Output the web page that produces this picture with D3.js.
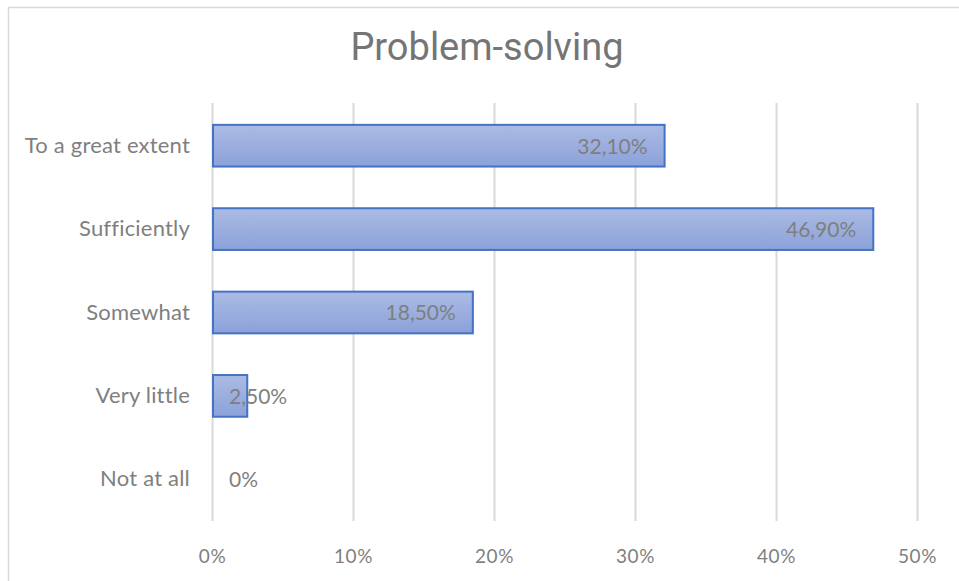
<!DOCTYPE html>
<html>
<head>
<meta charset="utf-8">
<script src="https://cdn.jsdelivr.net/npm/d3@7/dist/d3.min.js"></script>
<style>
  html, body { margin: 0; padding: 0; background: #fff; }
  svg { display: block; }
</style>
</head>
<body>
<svg id="chart" width="959" height="581"></svg>
<script>
// Survey responses for "Problem-solving"
const categories = ["To a great extent", "Sufficiently", "Somewhat", "Very little", "Not at all"];
const values = [32.1, 46.9, 18.5, 2.5, 0];
const valueLabels = ["32,10%", "46,90%", "18,50%", "2,50%", "0%"];
const tickValues = [0, 10, 20, 30, 40, 50];
const tickLabels = ["0%", "10%", "20%", "30%", "40%", "50%"];
const title = "Problem-solving";

const svg = d3.select("#chart");
const W = 959, H = 581;
const margin = { left: 212, right: 42, top: 104, bottom: 60 };

const x = d3.scaleLinear().domain([0, 50]).range([margin.left, W - margin.right]);
const y = d3.scaleBand().domain(categories).range([margin.top, H - margin.bottom]).paddingInner(0.5).paddingOuter(0.25);

const textColor = "#7f7f7f";
const labelFont = "Lato, 'Open Sans', sans-serif";

// Chart frame
svg.append("rect")
  .attr("x", 8.5).attr("y", 7.5)
  .attr("width", 980).attr("height", 620)
  .attr("fill", "#fff")
  .attr("stroke", "#d9d9d9").attr("stroke-width", 1.5);

// Bar gradient
const defs = svg.append("defs");
const grad = defs.append("linearGradient").attr("id", "barFill")
  .attr("x1", 0).attr("y1", 0).attr("x2", 0).attr("y2", 1);
grad.append("stop").attr("offset", "0%").attr("stop-color", "#abbbe4");
grad.append("stop").attr("offset", "100%").attr("stop-color", "#8ba1d9");

// Title
svg.append("text")
  .attr("x", 487).attr("y", 60)
  .attr("text-anchor", "middle")
  .attr("font-family", "Roboto, sans-serif")
  .attr("font-size", 38)
  .attr("fill", "#757575")
  .text(title);

// Vertical gridlines
const grid = d3.axisBottom(x).tickValues(tickValues).tickSize(-(y.range()[1] - y.range()[0] + 1)).tickFormat("");
svg.append("g")
  .attr("transform", `translate(0,${y.range()[1]})`)
  .call(grid)
  .call(g => g.select(".domain").remove())
  .call(g => g.selectAll("line").attr("stroke", "#d9d9d9").attr("stroke-width", 2));

// X axis tick labels
const xAxis = d3.axisBottom(x).tickValues(tickValues).tickSize(0).tickPadding(0)
  .tickFormat((d, i) => tickLabels[i]);
svg.append("g")
  .attr("transform", `translate(0,${y.range()[1] + 24})`)
  .call(xAxis)
  .call(g => g.select(".domain").remove())
  .call(g => g.selectAll("text")
    .attr("font-family", labelFont)
    .attr("font-size", 19)
    .attr("letter-spacing", 0.6)
    .attr("fill", textColor)
    .attr("dy", "0.95em"));

// Y axis category labels
const yAxis = d3.axisLeft(y).tickSize(0).tickPadding(22);
svg.append("g")
  .attr("transform", `translate(${x(0)},0)`)
  .call(yAxis)
  .call(g => g.select(".domain").remove())
  .call(g => g.selectAll("text")
    .attr("font-family", labelFont)
    .attr("font-size", 22)
    .attr("letter-spacing", 0.2)
    .attr("fill", textColor));

// Bars
const data = categories.map((c, i) => ({ c, v: values[i], label: valueLabels[i] }));
svg.append("g").selectAll("rect")
  .data(data.filter(d => d.v > 0))
  .join("rect")
  .attr("x", x(0) + 1)
  .attr("y", d => y(d.c))
  .attr("width", d => x(d.v) - x(0) - 1)
  .attr("height", y.bandwidth())
  .attr("fill", "url(#barFill)")
  .attr("stroke", "#4472c4")
  .attr("stroke-width", 2);

// Value labels (inside end, or past the axis when the bar is too short)
const labels = svg.append("g").selectAll("text")
  .data(data)
  .join("text")
  .attr("y", d => y(d.c) + y.bandwidth() / 2)
  .attr("dy", "0.38em")
  .attr("font-family", labelFont)
  .attr("font-size", 21)
  .attr("fill", textColor)
  .text(d => d.label);

labels.each(function(d) {
  const w = this.getComputedTextLength();
  const endX = x(d.v) - 17;
  if (endX - w < x(0) + 17) {
    d3.select(this).attr("x", x(0) + 17).attr("text-anchor", "start");
  } else {
    d3.select(this).attr("x", endX).attr("text-anchor", "end");
  }
});
</script>
</body>
</html>
